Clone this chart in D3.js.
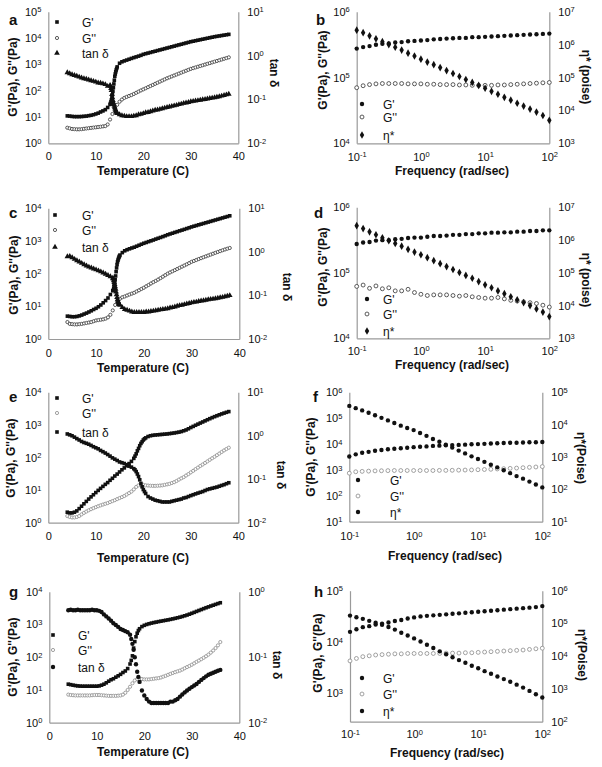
<!DOCTYPE html>
<html><head><meta charset="utf-8">
<script src="https://cdn.jsdelivr.net/npm/d3@7"></script>
<style>body{margin:0;background:#fff}svg{font-family:Arial,"Liberation Sans",sans-serif}</style>
</head><body><svg id="c" width="602" height="767"></svg>
<script>
// ---------- data ----------
const tempC = [4,4.5,5,5.5,6,6.5,7,7.5,8,8.5,9,9.5,10,10.5,11,11.5,12,12.5,13,13.5,14,14.5,15,15.5,16,16.5,17,17.5,18,18.5,19,19.5,20,20.5,21,21.5,22,22.5,23,23.5,24,24.5,25,25.5,26,26.5,27,27.5,28,28.5,29,29.5,30,30.5,31,31.5,32,32.5,33,33.5,34,34.5,35,35.5,36,36.5,37,37.5,38];
const freq = [0.1,0.1259,0.1585,0.1995,0.2512,0.3162,0.3981,0.5012,0.631,0.7943,1,1.259,1.585,1.995,2.512,3.162,3.981,5.012,6.31,7.943,10,12.59,15.85,19.95,25.12,31.62,39.81,50.12,63.1,79.43,100];
const tempTicks = [0,10,20,30,40];
const freqTicks = [0.1,1,10,100];

// panel a
const aGp = [11,10.8,10.5,10.3,10.3,10.3,10.4,10.6,10.8,11.2,11.6,12.2,13,14,15.5,17,19, 23,30,70,350,800,1100,1250,1350,1450,1560,1680,1800,1920,2050,2200, 2400,2540,2680,2830,2990,3160,3340,3530,3730,3940,4170, 4400,4650,4920,5200,5490,5800,6130,6480,6850,7240, 7560,7900,8260,8630,9010,9410,9830,10270,10730,11210,11600,12000,12420,12860,13310,13780];
const aGpp = [3.9,3.7,3.5,3.45,3.4,3.4,3.45,3.55,3.65,3.75,3.85,3.95,4.05,4.15,4.25,4.4,4.5, 5.2,8,13,21,29,38,46,53,58,63,68,75,83,92,102, 112,123,136,150,165,182,200,221,243,268,295, 320,348,378,410,446,484,526,571,620,673, 717,763,813,866,922,982,1046,1114,1186,1263,1345,1433,1526,1625,1730,1843];
const aTan = [0.41,0.39,0.37,0.355,0.34,0.325,0.31,0.3,0.29,0.28,0.27,0.26,0.25,0.24,0.235,0.228,0.22, 0.2,0.21,0.11,0.065,0.048,0.045,0.043,0.042,0.041,0.041,0.041,0.042,0.043,0.045,0.046, 0.048,0.05,0.051,0.053,0.055,0.057,0.058,0.06,0.062,0.064,0.066, 0.068,0.07,0.072,0.074,0.077,0.079,0.082,0.084,0.086,0.089, 0.091,0.093,0.095,0.097,0.099,0.101,0.103,0.106,0.108,0.11,0.113,0.116,0.12,0.124,0.128,0.133];
// extra readings across the steep transition of panel a
const aExtraT = [13.1,13.2,13.3,13.4,13.6,13.7,13.8,13.9,14.1,14.2,14.3,14.4];
const aExtraGp = [33,38,45,56,95,130,180,250,430,520,610,700];
const aExtraTan = [0.2,0.18,0.16,0.13,0.095,0.085,0.077,0.07,0.06,0.056,0.053,0.05];
// panel c
const cGp = [5.0,4.9,4.8,4.8,4.9,5.1,5.4,5.8,6.2,6.7,7.3,8.0,8.7,9.7,11,12.8,15, 18,23,30,65,230,370,440,500,540,575,610,645,690,740,795, 850,900,955,1010,1070,1140,1210,1280,1360,1450,1550, 1640,1730,1830,1930,2040,2150,2270,2400,2540,2690, 2830,2970,3120,3280,3440,3610,3790,3980,4180,4390,4610,4840,5080,5340,5600,5900];
const cGpp = [3.3,2.9,2.85,2.8,2.8,2.85,2.9,3.0,3.1,3.2,3.3,3.5,3.7,3.8,3.9,4.0,4.2, 4.6,5.5,7.5,11,14,17,19,20,21.5,23,24.5,26,28.5,31,34, 37,41,45,50,55,60,66,73,81,90,100, 109,118,128,139,151,164,178,193,210,230, 245,262,280,298,318,338,360,383,408,434,462,490,520,550,580,610];
const cTan = [0.78,0.79,0.74,0.68,0.63,0.59,0.55,0.51,0.48,0.45,0.43,0.41,0.39,0.37,0.35,0.33,0.31, 0.29,0.27,0.25,0.16,0.08,0.06,0.053,0.048,0.046,0.044,0.042,0.041,0.041,0.041,0.041, 0.041,0.042,0.042,0.043,0.044,0.045,0.046,0.047,0.048,0.049,0.05, 0.052,0.053,0.055,0.057,0.059,0.06,0.062,0.064,0.066,0.068, 0.07,0.071,0.073,0.075,0.076,0.078,0.08,0.082,0.083,0.085,0.087,0.089,0.091,0.094,0.097,0.1];
const cExtraT = [13.6,13.7,13.8,13.9,14.1,14.2,14.3,14.4,14.6,14.7,14.8,14.9];
const cExtraGp = [31,36,43,52,85,115,150,190,260,290,320,345];
const cExtraTan = [0.24,0.22,0.2,0.18,0.14,0.12,0.105,0.09,0.073,0.068,0.064,0.062];
// panel e
const eGp = [2.1,2.0,2.0,2.1,2.3,2.7,3.2,3.8,4.5,5.3,6.2,7.2,8.4,9.8,11.3,13,15, 17,20,23,27,31,36,42,48,56,65,76,94,130,190,270, 345,400,440,465,480,490,497,505,512,520,528, 540,552,566,582,600,625,660,700,760,830, 900,975,1055,1140,1230,1330,1440,1550,1670,1790,1910,2040,2170,2300,2430,2560];
const eGpp = [1.6,1.5,1.45,1.45,1.5,1.6,1.8,2.0,2.2,2.4,2.6,2.8,3.0,3.2,3.4,3.6,3.8, 4.0,4.3,4.6,4.9,5.3,5.7,6.1,6.6,7.3,8.1,9.0,10.5,12.5,14,14.5, 14.5,14,13.8,13.6,13.5,13.5,13.6,13.8,14,14.5,15, 15.5,16.5,17.5,19,21,23,25,28,31,35, 39,44,49,55,61,68,76,85,95,105,118,132,148,165,182,200];
const eTan = [1.1,1.05,1.0,0.93,0.86,0.8,0.74,0.7,0.67,0.64,0.6,0.56,0.53,0.5,0.46,0.43,0.4, 0.37,0.34,0.31,0.29,0.27,0.25,0.24,0.23,0.215,0.2,0.19,0.175,0.15,0.115,0.08, 0.058,0.047,0.04,0.037,0.035,0.033,0.032,0.031,0.03,0.03,0.03, 0.03,0.031,0.032,0.033,0.034,0.035,0.037,0.038,0.04,0.042, 0.044,0.046,0.048,0.05,0.052,0.055,0.058,0.06,0.062,0.064,0.066,0.069,0.072,0.075,0.079,0.083];
const eExtraT = [18.25,18.75,19.25,19.75,20.25];
const eExtraGp = [110,160,230,305,375];
const eExtraTan = [0.165,0.132,0.097,0.067,0.052];
// panel g (run ends at 36 C)
const gGp = [15,14.5,14,13.6,13.3,13.1,13,13,13,13,13,13,13,13.3,14,15,16.5, 18.5,20.5,22,24.5,27,30,34,38,45,62,110,300,540,740,860, 940,1000,1050,1100,1140,1180,1220,1260,1300,1340,1380, 1430,1480,1540,1600,1670,1750,1840,1940,2060,2190, 2340,2500,2670,2850,3040,3240,3440,3650,3870,4100,4340,4600];
const gGpp = [7.2,7.0,6.9,6.8,6.8,6.8,6.8,6.8,6.8,6.8,6.9,7.0,7.0,7.0,6.9,6.8,6.7, 6.6,6.6,6.6,6.6,6.7,6.8,7.2,8.2,10,12.5,16,19.5,21.5,22,21.5, 21,21,21,21.5,22,22.5,23,24,25.5,27,29, 31,33,35,37,39,42,46,50,54,59, 65,72,79,87,96,107,120,138,160,190,230,290];
const gTan = [0.52,0.53,0.52,0.52,0.53,0.52,0.52,0.52,0.52,0.52,0.53,0.52,0.52,0.51,0.49,0.45,0.42, 0.39,0.36,0.33,0.31,0.29,0.27,0.26,0.25,0.24,0.22,0.16,0.1,0.06,0.042,0.031, 0.026,0.023,0.021,0.02,0.02,0.02,0.02,0.02,0.02,0.02,0.02, 0.021,0.021,0.022,0.023,0.025,0.027,0.029,0.031,0.033,0.035, 0.037,0.039,0.042,0.045,0.048,0.051,0.054,0.056,0.058,0.06,0.062,0.064];
const gExtraT = [17.25,17.75,18.25,18.75];
const gExtraGp = [80,190,420,650];
const gExtraTan = [0.19,0.13,0.078,0.05];
// panel b
const bGp = [2.75e5,2.9e5,3.0e5,3.15e5,3.25e5,3.3e5,3.4e5,3.45e5,3.55e5,3.6e5,3.65e5,3.7e5,3.8e5,3.85e5,3.9e5,3.95e5,4.0e5,4.0e5,4.1e5,4.1e5,4.15e5,4.2e5,4.25e5,4.3e5,4.35e5,4.4e5,4.45e5,4.5e5,4.55e5,4.6e5,4.65e5];
const bGpp = [7.0e4,7.5e4,7.8e4,8.0e4,8.1e4,8.1e4,8.1e4,8.1e4,8.0e4,8.0e4,8.0e4,7.9e4,7.9e4,7.8e4,7.8e4,7.8e4,7.7e4,7.7e4,7.6e4,7.6e4,7.6e4,7.6e4,7.7e4,7.7e4,7.8e4,7.9e4,8.0e4,8.1e4,8.2e4,8.3e4,8.4e4];
const bEta = [2.75e6,2.3e6,1.85e6,1.5e6,1.23e6,1.0e6,8.3e5,6.8e5,5.5e5,4.5e5,3.6e5,2.95e5,2.45e5,2.0e5,1.62e5,1.32e5,1.07e5,8.7e4,7.1e4,5.75e4,4.7e4,3.8e4,3.1e4,2.5e4,2.05e4,1.65e4,1.35e4,1.1e4,8.9e3,7.0e3,5.0e3];
// panel d
const dGp = [2.75e5,2.9e5,2.95e5,3.1e5,3.15e5,3.15e5,3.25e5,3.3e5,3.4e5,3.45e5,3.45e5,3.55e5,3.65e5,3.65e5,3.7e5,3.8e5,3.8e5,3.9e5,3.9e5,4.0e5,4.0e5,4.1e5,4.1e5,4.15e5,4.15e5,4.25e5,4.25e5,4.35e5,4.35e5,4.45e5,4.45e5];
const dGpp = [6.2e4,6.5e4,5.8e4,6.3e4,5.7e4,5.9e4,5.3e4,5.3e4,5.6e4,5.0e4,4.7e4,4.5e4,4.6e4,4.6e4,4.6e4,4.5e4,4.4e4,4.5e4,4.3e4,4.2e4,4.1e4,4.1e4,4.2e4,4.0e4,3.8e4,3.7e4,3.6e4,3.5e4,3.4e4,3.2e4,3.0e4];
const dEta = [2.75e6,2.24e6,1.78e6,1.45e6,1.17e6,9.5e5,7.9e5,6.5e5,5.2e5,4.3e5,3.55e5,2.9e5,2.35e5,1.9e5,1.55e5,1.26e5,1.02e5,8.3e4,6.8e4,5.4e4,4.3e4,3.5e4,2.8e4,2.3e4,1.86e4,1.5e4,1.23e4,1.0e4,7.9e3,6.3e3,4.6e3];
// panel f
const fGp = [3300,4000,4600,5000,5500,5900,6300,6600,6900,7200,7600,7900,8100,8500,8700,8900,9100,9300,9500,9800,10000,10200,10500,10700,11000,11200,11200,11500,11700,11700,12000];
const fGpp = [750,850,880,900,920,930,940,950,950,950,950,950,950,950,960,960,970,980,990,1000,1020,1040,1060,1090,1120,1150,1180,1220,1260,1300,1350];
const fEta = [38000,32400,27500,23400,19500,16200,13500,11200,9300,7900,6800,5500,4500,3600,2950,2400,1950,1580,1290,1050,870,710,575,480,390,316,257,214,174,141,115];
// panel h
const hGp = [15800,17800,19500,20400,21900,22900,24000,25700,26900,28800,30200,31600,32400,33100,33900,34700,35500,36300,37200,38000,38900,39800,40700,41700,42700,43700,44700,45700,46800,47900,50100];
const hGpp = [4300,4800,5200,5400,5600,5700,5800,5900,5900,6000,6000,6000,6000,6000,6000,6100,6100,6100,6200,6200,6300,6400,6500,6600,6700,6800,6900,7000,7200,7400,7600];
const hEta = [174000,155000,138000,120000,105000,91000,78000,65000,52000,43000,35000,28000,22400,17800,14100,11500,9300,7600,6300,5100,4300,3500,2900,2400,2000,1660,1350,1100,870,690,550];

// ---------- drawing ----------
const svg = d3.select("#c");
const AX = "#9a9a9a";
const sym = {
  sq: d3.symbol(d3.symbolSquare).size(13),
  tri: d3.symbol(d3.symbolTriangle).size(14),
  dot: d3.symbol(d3.symbolCircle).size(15),
  dia: d3.symbol(d3.symbolDiamond).size(17),
  open: d3.symbol(d3.symbolCircle).size(8),
  openF: d3.symbol(d3.symbolCircle).size(12)
};
function styleMark(sel, s) {
  if (s.shape === "open" || s.shape === "openF") sel.attr("fill", "#fff").attr("stroke", s.color).attr("stroke-width", 0.8);
  else sel.attr("fill", s.color).attr("stroke", "none");
}
function supFormat(axisG) {
  axisG.selectAll(".tick text").each(function(d) {
    const t = d3.select(this);
    const e = Math.round(Math.log10(d));
    t.text("10");
    t.append("tspan").attr("dy", "-0.45em").attr("font-size", "7.5px").text(String(e));
  });
}

function drawPanel(p) {
  const g = svg.append("g");
  const [L, R, T, B] = p.box;
  const x = p.xlog ? d3.scaleLog().domain(p.xDomain).range([L, R]) : d3.scaleLinear().domain(p.xDomain).range([L, R]);
  const yL = d3.scaleLog().domain(p.yL).range([B, T]);
  const yR = d3.scaleLog().domain(p.yR).range([B, T]);

  const ax = g.append("g").attr("transform", `translate(0,${B})`)
    .call(d3.axisBottom(x).tickValues(p.xTicks).tickSize(0).tickSizeOuter(0).tickPadding(p.xPad)
      .tickFormat(p.xlog ? (d => d) : d3.format("d")));
  if (p.xlog) supFormat(ax);
  const al = g.append("g").attr("transform", `translate(${L},0)`)
    .call(d3.axisLeft(yL).tickValues(p.yLTicks).tickSize(0).tickSizeOuter(0).tickPadding(7));
  supFormat(al);
  const ar = g.append("g").attr("transform", `translate(${R},0)`)
    .call(d3.axisRight(yR).tickValues(p.yRTicks).tickSize(0).tickSizeOuter(0).tickPadding(9));
  supFormat(ar);
  g.selectAll(".domain").attr("stroke", AX).attr("stroke-width", 1.2);
  g.selectAll(".tick text").attr("font-size", "11px").attr("fill", "#111").attr("font-family", "Arial, 'Liberation Sans', sans-serif");

  // series (drawn G'', tan δ / η*, then G')
  p.series.forEach(s => {
    const ys = s.axis === "R" ? yR : yL;
    let pts = s.values.map((v, i) => [p.xs[i], v]);
    if (s.extraX) pts = pts.concat(s.extraX.map((t, i) => [t, s.extraV[i]]));
    const m = g.append("g").selectAll("path").data(pts).join("path")
      .attr("d", sym[s.shape]).attr("transform", d => `translate(${x(d[0])},${ys(d[1])})`);
    styleMark(m, s);
  });

  // legend: G', G'', tan δ / η*
  p.series.forEach(s => {
    const ly = p.legend.ys[s.order];
    const m = g.append("path").attr("d", sym[s.shape]).attr("transform", `translate(${p.legend.mx},${ly})`);
    styleMark(m, s);
    g.append("text").attr("x", p.legend.tx).attr("y", ly + 4.5).attr("font-size", "12px").attr("fill", "#111").text(s.label);
  });

  // titles
  g.append("text").attr("x", p.xTitle[0]).attr("y", p.xTitle[1]).attr("text-anchor", "middle")
    .attr("font-size", "12px").attr("font-weight", "bold").attr("fill", "#111").text(p.xTitleText);
  g.append("text").attr("transform", `translate(${p.yLTitle[0]},${p.yLTitle[1]}) rotate(-90)`).attr("text-anchor", "middle")
    .attr("font-size", "12px").attr("font-weight", "bold").attr("fill", "#111").text("G'(Pa), G''(Pa)");
  g.append("text").attr("transform", `translate(${p.yRTitle[0]},${p.yRTitle[1]}) rotate(90)`).attr("text-anchor", "middle")
    .attr("font-size", "12px").attr("font-weight", "bold").attr("fill", "#111").text(p.yRTitleText);
  g.append("text").attr("x", p.letter[0]).attr("y", p.letter[1]).attr("font-size", "15px").attr("font-weight", "bold")
    .attr("fill", "#111").text(p.id);
}

const dark = "#111", grey = "#333", light = "#8a8a8a";
const tempPanel = (id, box, xPad, yL, yLTicks, yR, yRTicks, gp, gpp, tan, ext, gppColor, tanShape, legend, xTitle, yLTitle, yRTitle, letter) => ({
  id, box, xPad, xlog: false, xDomain: [0, 40], xTicks: tempTicks, xs: tempC, yL, yLTicks, yR, yRTicks,
  series: [
    { label: "G''", values: gpp, axis: "L", shape: "open", color: gppColor, order: 1 },
    { label: "tan \u03b4", values: tan, axis: "R", shape: tanShape, color: dark, extraX: ext[0], extraV: ext[2], order: 2 },
    { label: "G'", values: gp, axis: "L", shape: "sq", color: dark, extraX: ext[0], extraV: ext[1], order: 0 }
  ],
  legend, xTitle, xTitleText: "Temperature (C)", yLTitle, yRTitle, yRTitleText: "tan \u03b4", letter
});
const freqPanel = (id, box, xPad, yL, yLTicks, yR, yRTicks, gp, gpp, eta, gppColor, etaShape, etaLabel, legend, xTitle, yLTitle, yRTitle, yRText, letter) => ({
  id, box, xPad, xlog: true, xDomain: [0.1, 100], xTicks: freqTicks, xs: freq, yL, yLTicks, yR, yRTicks,
  series: [
    { label: "G''", values: gpp, axis: "L", shape: "openF", color: gppColor, order: 1 },
    { label: etaLabel, values: eta, axis: "R", shape: etaShape, color: dark, order: 2 },
    { label: "G'", values: gp, axis: "L", shape: "dot", color: dark, order: 0 }
  ],
  legend, xTitle, xTitleText: "Frequency (rad/sec)", yLTitle, yRTitle, yRTitleText: yRText, letter
});

const panels = [
  tempPanel("a", [48.3, 238.3, 11.7, 143.3], 8.5, [1, 1e5], [1, 10, 100, 1e3, 1e4, 1e5], [0.01, 10], [0.01, 0.1, 1, 10],
    aGp, aGpp, aTan, [aExtraT, aExtraGp, aExtraTan], grey, "tri", { mx: 57, tx: 82, ys: [22, 38, 53] }, [143, 175], [17, 77], [270, 73], [9, 25]),
  freqPanel("b", [356.7, 549.3, 11.7, 143.3], 9.5, [1e4, 1e6], [1e4, 1e5, 1e6], [1e3, 1e7], [1e3, 1e4, 1e5, 1e6, 1e7],
    bGp, bGpp, bEta, grey, "dia", "\u03b7*", { mx: 362, tx: 383, ys: [104, 117, 135] }, [452, 175], [327, 70], [582, 77], "\u03b7* (poise)", [316, 25]),
  tempPanel("c", [48.3, 239.3, 208.3, 339], 10, [1, 1e4], [1, 10, 100, 1e3, 1e4], [0.01, 10], [0.01, 0.1, 1, 10],
    cGp, cGpp, cTan, [cExtraT, cExtraGp, cExtraTan], grey, "tri", { mx: 55, tx: 82, ys: [215, 230, 247] }, [143, 372], [18, 275], [283, 287], [9, 218]),
  freqPanel("d", [356.7, 549.3, 207.3, 338.3], 8.5, [1e4, 1e6], [1e4, 1e5, 1e6], [1e3, 1e7], [1e3, 1e4, 1e5, 1e6, 1e7],
    dGp, dGpp, dEta, grey, "dia", "\u03b7*", { mx: 367, tx: 383, ys: [299, 314, 331] }, [452, 369], [327, 267], [582, 280], "\u03b7* (poise)", [314, 218]),
  tempPanel("e", [48.3, 238.3, 392.3, 522.7], 10, [1, 1e4], [1, 10, 100, 1e3, 1e4], [0.01, 10], [0.01, 0.1, 1, 10],
    eGp, eGpp, eTan, [eExtraT, eExtraGp, eExtraTan], light, "sq", { mx: 57, tx: 82, ys: [398, 413, 432] }, [143, 562], [15, 458], [277, 475], [9, 402]),
  freqPanel("f", [349.3, 542.3, 392.3, 521.7], 11, [10, 1e6], [10, 100, 1e3, 1e4, 1e5, 1e6], [10, 1e5], [10, 100, 1e3, 1e4, 1e5],
    fGp, fGpp, fEta, light, "dot", "\u03b7*", { mx: 358, tx: 390, ys: [480, 496, 512] }, [445, 560], [315, 457], [577, 458], "\u03b7*(Poise)", [313, 402]),
  tempPanel("g", [49.3, 239.3, 591.7, 722.7], 10, [1, 1e4], [1, 10, 100, 1e3, 1e4], [0.01, 1], [0.01, 0.1, 1],
    gGp, gGpp, gTan, [gExtraT, gExtraGp, gExtraTan], light, "dot", { mx: 53, tx: 78, ys: [635, 650, 667] }, [143, 756], [17, 657], [273, 665], [9, 597]),
  freqPanel("h", [350, 542.3, 590.7, 721.7], 9, [282, 1e5], [1e3, 1e4, 1e5], [100, 1e6], [100, 1e3, 1e4, 1e5, 1e6],
    hGp, hGpp, hEta, light, "dot", "\u03b7*", { mx: 362, tx: 383, ys: [678, 694, 711] }, [447, 757], [322, 653], [578, 655], "\u03b7*(Poise)", [314, 597])
];
panels.forEach(drawPanel);
</script></body></html>
